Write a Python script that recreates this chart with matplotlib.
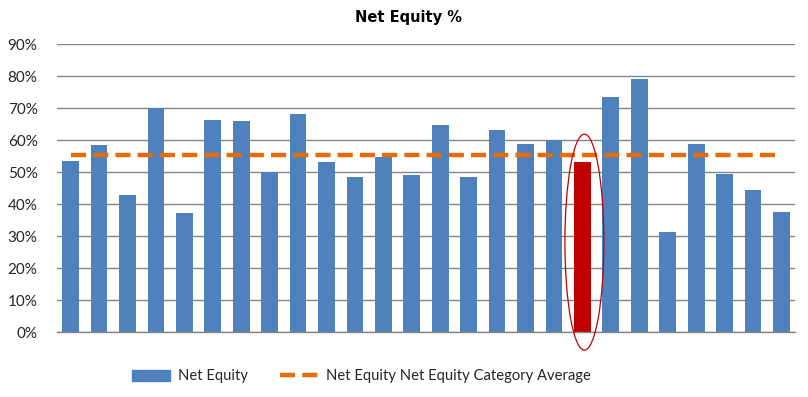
import matplotlib
matplotlib.use("Agg")
import matplotlib.pyplot as plt
from matplotlib.patches import Ellipse
from matplotlib.ticker import PercentFormatter

plt.rcParams['font.family'] = ['Lato', 'DejaVu Sans']

# ======= data =======
net_equity = [53.5, 58.5, 42.9, 69.9, 37.3, 66.3, 66.0, 49.9, 68.2, 53.2,
              48.5, 54.8, 49.1, 64.8, 48.5, 63.2, 58.8, 59.9, 53.2, 73.5,
              79.2, 31.3, 58.8, 49.5, 44.5, 37.6]
category_average = 55.4
highlight_index = 18  # the red bar
y_ticks = [0, 10, 20, 30, 40, 50, 60, 70, 80, 90]

blue = '#4F81BD'
red = '#C00000'
orange = '#E46C0A'
grid_gray = '#868686'
text_color = '#262626'

x = list(range(len(net_equity)))
colors = [red if i == highlight_index else blue for i in x]
avg_line = [category_average] * len(x)

fig = plt.figure(figsize=(8.08, 3.97), dpi=100)
ax = fig.add_axes([0.0705, 0.1637, 0.9135, 0.7253])

bars = ax.bar(x, net_equity, width=0.59, color=colors, zorder=2)
avg, = ax.plot(x, avg_line, color=orange, linewidth=3.2, linestyle=(0, (3.4, 1.6)),
               zorder=3)

# ellipse around the highlighted bar
ell = Ellipse((highlight_index + 0.07, 28.1), width=1.37, height=67.5,
              fill=False, edgecolor=red, linewidth=0.9, zorder=4, clip_on=False)
ax.add_patch(ell)

ax.set_xlim(-0.48, len(x) - 0.52)
ax.set_ylim(0, 90)
ax.set_yticks(y_ticks)
ax.yaxis.set_major_formatter(PercentFormatter(decimals=0))
ax.set_xticks([])
ax.grid(axis='y', color=grid_gray, linewidth=1.0, zorder=0)
ax.set_axisbelow(True)
for side in ['top', 'right', 'left']:
    ax.spines[side].set_visible(False)
ax.spines['bottom'].set_color(grid_gray)
ax.spines['bottom'].set_linewidth(1.0)
ax.tick_params(axis='y', length=0, pad=14, labelsize=11, labelcolor=text_color)

fig.text(0.505, 0.957, 'Net Equity %', ha='center', va='center',
         fontsize=10.5, fontweight='bold', color='black', family='DejaVu Sans')

# legend: bar first, then the average line (blue patch uses first bar colour)
bar_handle = plt.Rectangle((0, 0), 1, 1, color=blue)
leg = fig.legend([bar_handle, avg], ['Net Equity', 'Net Equity Net Equity Category Average'],
                 loc='center', bbox_to_anchor=(0.447, 0.052), ncol=2, frameon=False,
                 fontsize=10.6, handlelength=2.6, handleheight=0.8, columnspacing=2.2,
                 handletextpad=0.5)
for t in leg.get_texts():
    t.set_color(text_color)

fig.savefig('out.png', dpi=100)
